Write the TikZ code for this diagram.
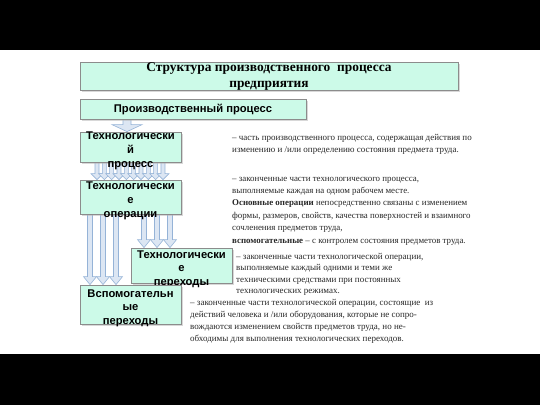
\documentclass[tikz,border=0pt]{standalone}
\usepackage{fontspec}
\setmainfont{Liberation Serif}
\newfontfamily\boxfont{Liberation Sans}
\usetikzlibrary{calc,shadows}
\pgfdeclarelayer{back}
\pgfdeclarelayer{arrows}
\pgfsetlayers{back,arrows,main}
\definecolor{boxfill}{RGB}{204,250,232}
\definecolor{boxline}{RGB}{140,140,140}
\definecolor{arrfill}{RGB}{220,230,243}
\definecolor{arrline}{RGB}{149,179,215}
\definecolor{desc}{RGB}{40,40,40}
\newcommand{\ovtext}[2]{\raisebox{#1}[0pt][0pt]{\begin{tabular}{@{}c@{}}#2\end{tabular}}}
\newcommand{\barr}[6]{%
  \path[arr] let \p1=(#2.south), \p2=(#3.north) in
    (#1pt-#4pt,\y1) -- (#1pt+#4pt,\y1) -- (#1pt+#4pt,\y2+#6pt) -- (#1pt+#5pt,\y2+#6pt)
    -- (#1pt,\y2) -- (#1pt-#5pt,\y2+#6pt) -- (#1pt-#4pt,\y2+#6pt) -- cycle;}
\begin{document}
\begin{tikzpicture}[x=1pt,y=-1pt,
  box/.style={draw=boxline, line width=0.8pt, fill=boxfill, inner sep=0pt,
    drop shadow={shadow xshift=1.5pt, shadow yshift=-1.5pt, fill=black!30, opacity=0.5}},
  btext/.style={font=\boxfont\fontsize{11.2}{13.6}\selectfont\bfseries},
  ttext/.style={font=\fontsize{13.4}{16}\selectfont\bfseries},
  dtext/.style={anchor=base west, inner sep=0pt, text=desc},
  arr/.style={draw=arrline, fill=arrfill, line width=0.6pt}]
\useasboundingbox (0,0) rectangle (540,405);
\begin{pgfonlayer}{back}
\fill[white] (0,50) rectangle (540,354);
\fill[black] (0,0) rectangle (540,50);
\fill[black] (0,354) rectangle (540,405);
\end{pgfonlayer}

\node[box, ttext, minimum width=378pt, minimum height=28pt] (title) at (269,76)
  {\ovtext{-4pt}{Структура производственного \ процесса\\предприятия}};
\node[box, btext, minimum width=226pt, minimum height=20pt] (pp) at (193,109)
  {Производственный процесс};
\node[box, btext, minimum width=101pt, minimum height=30pt] (tp) at (130.5,147)
  {\ovtext{-6.5pt}{Технологически\\й\\процесс}};
\node[box, btext, minimum width=101pt, minimum height=34pt] (to) at (130.5,197)
  {\ovtext{-6.5pt}{Технологически\\е\\операции}};
\node[box, btext, minimum width=101pt, minimum height=35pt] (tper) at (181.5,265.5)
  {\ovtext{-6.5pt}{Технологически\\е\\переходы}};
\node[box, btext, minimum width=101pt, minimum height=39pt] (vp) at (130.5,304.5)
  {\ovtext{-6.5pt}{Вспомогательн\\ые\\переходы}};

\begin{pgfonlayer}{arrows}
\barr{127}{pp}{tp}{4}{15}{7}
\foreach \i in {0,...,9} {\pgfmathsetmacro\xx{97+7.33*\i}\barr{\xx}{tp}{to}{2}{6}{6}}
\foreach \xx in {90,103,116} {\barr{\xx}{to}{vp}{2.5}{6.5}{8}}
\foreach \xx in {144,157,170} {\barr{\xx}{to}{tper}{2.5}{6.5}{8}}
\end{pgfonlayer}

\node[dtext] (d1) at (232,140) {\parbox[t]{300pt}{\fontsize{9}{12.5}\selectfont
– часть производственного процесса, содержащая действия по\\
изменению и /или определению состояния предмета труда.}};
\node[dtext] (d2) at (232,181) {\parbox[t]{300pt}{\fontsize{8.9}{12.4}\selectfont
– законченные части технологического процесса,\\
выполняемые каждая на одном рабочем месте.\\
\textbf{Основные операции} непосредственно связаны с изменением\\
формы, размеров, свойств, качества поверхностей и взаимного\\
сочленения предметов труда,\\
\textbf{вспомогательные} – с контролем состояния предметов труда.}};
\node[dtext] (d3) at (236,259) {\parbox[t]{300pt}{\fontsize{9}{11.5}\selectfont
– законченные части технологической операции,\\
выполняемые каждый одними и теми же\\
техническими средствами при постоянных\\
технологических режимах.}};
\node[dtext] (d4) at (190,305) {\parbox[t]{320pt}{\fontsize{9}{12.3}\selectfont
– законченные части технологической операции, состоящие \ из\\
действий человека и /или оборудования, которые не сопро-\\
вождаются изменением свойств предметов труда, но не-\\
обходимы для выполнения технологических переходов.}};
\end{tikzpicture}
\end{document}
